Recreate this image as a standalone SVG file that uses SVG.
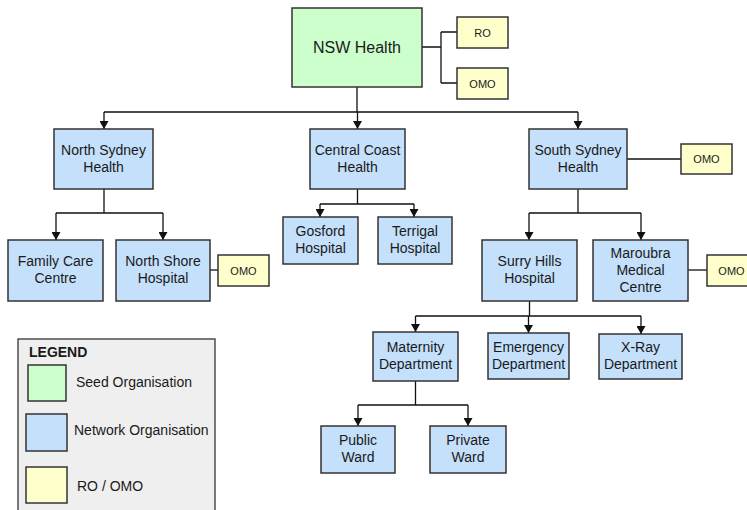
<svg xmlns="http://www.w3.org/2000/svg" width="747" height="510" viewBox="0 0 747 510">
<defs>
<marker id="arr" markerWidth="9" markerHeight="9" refX="8" refY="4.5" orient="auto" markerUnits="userSpaceOnUse">
<path d="M0,0 L8,4.5 L0,9 z" fill="#111"/>
</marker>
<style>
.seed{fill:#ccffcc;stroke:#333;stroke-width:1.5}
.net{fill:#c4e0fb;stroke:#333;stroke-width:1.5}
.omo{fill:#ffffcc;stroke:#333;stroke-width:1.5}
.t{font-family:"Liberation Sans",Arial,sans-serif;font-size:14px;fill:#1a1a1a;text-anchor:middle}
.s{font-family:"Liberation Sans",Arial,sans-serif;font-size:11px;fill:#1a1a1a;text-anchor:middle}
.l{font-family:"Liberation Sans",Arial,sans-serif;font-size:14px;fill:#1a1a1a}
.c{fill:none;stroke:#111;stroke-width:1.3}
.a{fill:none;stroke:#111;stroke-width:1.3;marker-end:url(#arr)}
</style>
</defs>
<rect width="747" height="510" fill="#fff"/>

<g id="connectors">
<path class="c" d="M422,47 H441 M441,32 V83 M441,32 H457 M441,83 H457"/>
<path class="c" d="M357,87 V112 M104,112 H578"/>
<path class="a" d="M104,112 V129"/>
<path class="a" d="M357.5,112 V129"/>
<path class="a" d="M578,112 V129"/>
<path class="c" d="M104,189 V213 M56,213 H163"/>
<path class="a" d="M56,213 V240"/>
<path class="a" d="M163,213 V240"/>
<path class="c" d="M210,270 H218"/>
<path class="c" d="M357.5,189 V204 M320,204 H414"/>
<path class="a" d="M320,204 V217"/>
<path class="a" d="M414,204 V217"/>
<path class="c" d="M627,159 H681"/>
<path class="c" d="M578,189 V213 M529,213 H641"/>
<path class="a" d="M529,213 V240"/>
<path class="a" d="M641,213 V240"/>
<path class="c" d="M688,270 H707"/>
<path class="c" d="M529.5,301 V316 M415.5,316 H641"/>
<path class="a" d="M415.5,316 V332"/>
<path class="a" d="M528.5,316 V333"/>
<path class="a" d="M641,316 V334"/>
<path class="c" d="M415.5,381 V405 M358,405 H468"/>
<path class="a" d="M358,405 V426"/>
<path class="a" d="M468,405 V426"/>
</g>

<g id="nsw-health"><rect class="seed" x="292" y="8" width="130" height="79"/><text class="t" x="357" y="53" style="font-size:16px">NSW Health</text></g>
<g id="ro-top"><rect class="omo" x="457" y="17" width="51" height="31"/><text class="s" x="482.5" y="36.5">RO</text></g>
<g id="omo-top"><rect class="omo" x="457" y="68" width="51" height="31"/><text class="s" x="482.5" y="87.5">OMO</text></g>

<g id="north-sydney"><rect class="net" x="54" y="129" width="99" height="60"/><text class="t" x="103.5" y="155">North Sydney</text><text class="t" x="103.5" y="172">Health</text></g>
<g id="central-coast"><rect class="net" x="310" y="129" width="95" height="60"/><text class="t" x="357.5" y="155">Central Coast</text><text class="t" x="357.5" y="172">Health</text></g>
<g id="south-sydney"><rect class="net" x="529" y="129" width="98" height="60"/><text class="t" x="578" y="155">South Sydney</text><text class="t" x="578" y="172">Health</text></g>
<g id="omo-south"><rect class="omo" x="681" y="144" width="51" height="30"/><text class="s" x="706.5" y="163">OMO</text></g>

<g id="family-care"><rect class="net" x="8" y="240" width="95" height="61"/><text class="t" x="55.5" y="266">Family Care</text><text class="t" x="55.5" y="283">Centre</text></g>
<g id="north-shore"><rect class="net" x="116" y="240" width="94" height="61"/><text class="t" x="163" y="266">North Shore</text><text class="t" x="163" y="283">Hospital</text></g>
<g id="omo-north-shore"><rect class="omo" x="218" y="255" width="51" height="31"/><text class="s" x="243.5" y="274.5">OMO</text></g>

<g id="gosford"><rect class="net" x="283" y="217" width="75" height="47"/><text class="t" x="320.5" y="236">Gosford</text><text class="t" x="320.5" y="253">Hospital</text></g>
<g id="terrigal"><rect class="net" x="378" y="217" width="74" height="47"/><text class="t" x="415" y="236">Terrigal</text><text class="t" x="415" y="253">Hospital</text></g>

<g id="surry-hills"><rect class="net" x="482" y="240" width="95" height="61"/><text class="t" x="529.5" y="266">Surry Hills</text><text class="t" x="529.5" y="283">Hospital</text></g>
<g id="maroubra"><rect class="net" x="593" y="240" width="95" height="61"/><text class="t" x="640.5" y="257.5">Maroubra</text><text class="t" x="640.5" y="274.5">Medical</text><text class="t" x="640.5" y="291.5">Centre</text></g>
<g id="omo-maroubra"><rect class="omo" x="707" y="255" width="50" height="31"/><text class="s" x="731.5" y="274.5">OMO</text></g>

<g id="maternity"><rect class="net" x="373" y="332" width="85" height="49"/><text class="t" x="415.5" y="352">Maternity</text><text class="t" x="415.5" y="369">Department</text></g>
<g id="emergency"><rect class="net" x="488" y="333" width="81" height="46"/><text class="t" x="528.5" y="352">Emergency</text><text class="t" x="528.5" y="369">Department</text></g>
<g id="xray"><rect class="net" x="599" y="334" width="83" height="45"/><text class="t" x="640.5" y="352">X-Ray</text><text class="t" x="640.5" y="369">Department</text></g>

<g id="public-ward"><rect class="net" x="321" y="426" width="74" height="47"/><text class="t" x="358" y="445">Public</text><text class="t" x="358" y="462">Ward</text></g>
<g id="private-ward"><rect class="net" x="430" y="426" width="76" height="47"/><text class="t" x="468" y="445">Private</text><text class="t" x="468" y="462">Ward</text></g>

<g id="legend">
<rect x="18" y="339" width="197" height="180" fill="#efefef" stroke="#333" stroke-width="1.3"/>
<text class="l" x="29" y="357" style="font-weight:bold">LEGEND</text>
<rect class="seed" x="28" y="365" width="38" height="36"/>
<text class="l" x="76" y="387">Seed Organisation</text>
<rect class="net" x="26" y="414" width="41" height="37"/>
<text class="l" x="74" y="435">Network Organisation</text>
<rect class="omo" x="26" y="467" width="41" height="36"/>
<text class="l" x="77" y="491">RO / OMO</text>
</g>
</svg>
